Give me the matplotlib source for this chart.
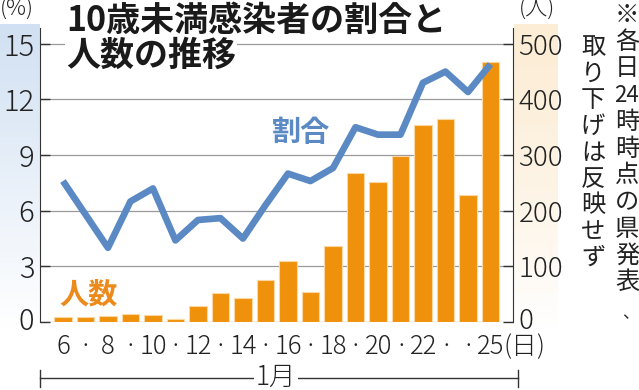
import numpy as np
import matplotlib
matplotlib.use('Agg')
import matplotlib.pyplot as plt
import matplotlib.transforms as mtransforms

plt.rcParams['font.family'] = ['Noto Sans CJK JP', 'DejaVu Sans']

# data (January, day of month)
days = list(range(6, 26))
ratio = [7.6, 5.8, 4.0, 6.5, 7.2, 4.4, 5.5, 5.6, 4.5, 6.3,
         8.0, 7.6, 8.3, 10.5, 10.1, 10.1, 12.9, 13.5, 12.4, 13.9]
counts = [9, 9, 10, 14, 12, 6, 29, 53, 43, 75,
          110, 54, 136, 267, 251, 298, 354, 365, 229, 468]
left_ticks = [0, 3, 6, 9, 12, 15]
right_ticks = [0, 100, 200, 300, 400, 500]
day_labels = ['6', '·', '8', '·', '10', '·', '12', '·', '14', '·', '16', '·',
              '18', '·', '20', '·', '22', '·', '·', '25']

W, H = 639, 390
blue = '#5a89c4'
orange = '#f0910c'

fig = plt.figure(figsize=(W / 100, H / 100), dpi=100)


def fx(x):
    return x / W


def fy(y):
    return 1 - y / H


# background panels behind tick labels
bg = fig.add_axes([0, 0, 1, 1], zorder=-5)
bg.set_xlim(0, W)
bg.set_ylim(H, 0)
bg.axis('off')
grad = np.linspace(0, 1, 100).reshape(-1, 1)
left_rgb = np.array([0.82, 0.88, 0.95])
right_rgb = np.array([0.99, 0.93, 0.84])
white = np.array([1.0, 1.0, 1.0])
img_l = left_rgb * (1 - grad[..., None]) + white * grad[..., None]
img_r = right_rgb * (1 - grad[..., None] ** 1.5) + white * grad[..., None] ** 1.5
bg.imshow(img_l, extent=(0, 40, 330, 24), aspect='auto')
bg.imshow(img_r, extent=(514, 558, 330, 24), aspect='auto')

# main axes: 0 at y=322 px, left at x=40, right at x=513
ax2 = fig.add_axes([fx(40), fy(322), (513 - 40) / W, (322 - 28) / H])
ax1 = ax2.twinx()
ax1.yaxis.tick_left()
ax2.yaxis.tick_right()
ax1.set_zorder(ax2.get_zorder() + 1)
ax1.patch.set_visible(False)
ax2.patch.set_visible(False)

top = 15.85
ax1.set_ylim(0, top)
ax2.set_ylim(0, top * 100 / 3)
ax2.set_xlim(4.98, 26.0)
ax1.set_xlim(4.98, 26.0)

ax2.bar(days, counts, width=0.76, color=orange, edgecolor='#fbd8a2',
        linewidth=0.8, zorder=2)
ax2.set_yticks(right_ticks)
ax2.yaxis.grid(True, color='#9a9a9a', linewidth=0.9)
ax2.set_axisbelow(True)

ax1.plot(days, ratio, color=blue, linewidth=4.8, solid_joinstyle='round',
         solid_capstyle='butt', zorder=3)
ax1.set_yticks(left_ticks)

for a in (ax1, ax2):
    a.spines['top'].set_visible(False)
    a.spines['bottom'].set_visible(False)
    a.spines['left'].set_color('#333333')
    a.spines['right'].set_color('#333333')
    a.set_xticks([])
ax1.spines['right'].set_visible(False)
ax2.spines['left'].set_visible(False)

ax1.tick_params(axis='y', direction='in', length=7, width=1, color='#333333',
                labelsize=21, pad=4, labelcolor='#222222')
ax2.tick_params(axis='y', direction='in', length=7, width=1, color='#333333',
                labelsize=20, pad=4, labelcolor='#222222')
for lab in ax1.get_yticklabels() + ax2.get_yticklabels():
    lab.set_fontweight('light')
# the zero labels sit a little above the baseline
lift = mtransforms.ScaledTranslation(0, 4 / 100, fig.dpi_scale_trans)
for lab in (ax1.get_yticklabels()[0], ax2.get_yticklabels()[0]):
    lab.set_transform(lab.get_transform() + lift)

# x labels
for d, lab in zip(days, day_labels):
    fig.text(fx(63 + (d - 6) * 22.53), fy(347), lab, ha='center', va='center',
             fontsize=18.5, fontweight='light', color='#222222')
fig.text(fx(503), fy(347), '(日)', ha='left', va='center', fontsize=18.5,
         fontweight='light', color='#222222')

# month bracket
bg.plot([40, 518], [378, 378], color='#333333', linewidth=1)
bg.plot([40, 40], [370, 387], color='#333333', linewidth=1)
bg.plot([518, 518], [370, 387], color='#333333', linewidth=1)
fig.text(fx(276), fy(377), '1月', ha='center', va='center', fontsize=19,
         fontweight='light', color='#222222',
         bbox=dict(facecolor='white', edgecolor='none', pad=1))

# units
fig.text(fx(0), fy(10), '(%)', ha='left', va='center', fontsize=16,
         fontweight='light', color='#222222')
fig.text(fx(519), fy(10), '(人)', ha='left', va='center', fontsize=16,
         fontweight='light', color='#222222')

# title
fig.text(fx(66), fy(20), '10歳未満感染者の割合と', ha='left', va='center',
         fontsize=24.5, fontweight='bold', color='#1a1a1a', zorder=5,
         bbox=dict(facecolor='white', edgecolor='none', pad=0))
fig.text(fx(66), fy(55), '人数の推移', ha='left', va='center',
         fontsize=24.5, fontweight='bold', color='#1a1a1a', zorder=5,
         bbox=dict(facecolor='white', edgecolor='none', pad=1))

# series labels
fig.text(fx(301), fy(132), '割合', ha='center', va='center', fontsize=21,
         fontweight='bold', color=blue, zorder=5)
fig.text(fx(88), fy(295), '人数', ha='center', va='center', fontsize=21,
         fontweight='bold', color='#ec8a1c', zorder=5)

# vertical note
col_r = ['※', '各', '日', '24', '時', '時', '点', 'の', '県', '発', '表', '、']
col_l = ['取', 'り', '下', 'げ', 'は', '反', '映', 'せ', 'ず']
for i, ch in enumerate(col_r):
    fs = 16 if ch == '24' else 17.5
    x, y = 627, 15 + i * 26.7
    if ch == '、':
        fs, x, y = 12, 630, 314
    fig.text(fx(x), fy(y), ch, ha='center', va='center',
             fontsize=fs, color='#222222')
for i, ch in enumerate(col_l):
    fig.text(fx(593), fy(47 + i * 26.4), ch, ha='center', va='center',
             fontsize=17.5, color='#222222')

fig.savefig('out.png', dpi=100)
